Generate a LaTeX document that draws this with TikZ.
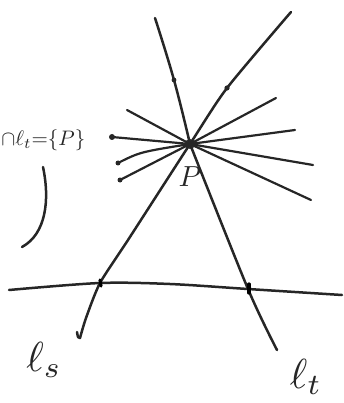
\documentclass[tikz,border=0pt]{standalone}
\usetikzlibrary{calc}
\begin{document}
\begin{tikzpicture}[x=1pt,y=-1pt,line cap=round,line join=round,
  stroke/.style={line width=2.5pt,black!85},
  thin stroke/.style={line width=2.2pt,black!85},
  lbl/.style={inner sep=0pt,text=black!85}]
\useasboundingbox (0,0) rectangle (344,403);
% point P
\node[circle,fill=black!80,inner sep=0pt,minimum size=10pt] (P) at (190,144) {};
% coordinates
\coordinate (ta) at (155,18);
\coordinate (tm) at (174,80);
\coordinate (tb) at (248,289);
\coordinate (tc) at (277,350);
\coordinate (sa) at (291,12);
\coordinate (sb) at (227,88);
\coordinate (sc) at (128,240);
\coordinate (sd) at (100,283);
\coordinate (se) at (86,318);
\coordinate (sf) at (80,338);
\coordinate (h0) at (9,290);
\coordinate (h1) at (170,284);
\coordinate (h2) at (342,295);
% line l_t
\draw[stroke] plot[smooth,tension=0.7] coordinates {(ta) (tm) (P.center)};
\draw[stroke] plot[smooth,tension=0.5] coordinates {(P.center) (tb) (tc)};
% line l_s
\draw[stroke] plot[smooth,tension=0.4] coordinates {(sa) (sb) (P.center) (sc) (sd) (se) (sf)} .. controls (78,338) .. ++(-3,-6);
% horizontal line
\draw[stroke] plot[smooth,tension=0.5] coordinates {(h0) (sd) (h1) (tb) (h2)};
% ticks
\draw[line width=3.2pt] ($(sd)+(0,-3)$) -- ($(sd)+(1,3)$);
\draw[line width=3.2pt] ($(tb)+(1,-5)$) -- ($(tb)+(1,4)$);
\fill[black!85] (tm) circle (2.4pt);
\fill[black!85] (sb) circle (2.6pt);
% short rays through P
\coordinate (r1a) at (127,110); \coordinate (r1b) at (311,200);
\coordinate (r2a) at (112,137); \coordinate (r2b) at (313,165);
\coordinate (r3a) at (118,163); \coordinate (r3b) at (295,130);
\coordinate (r4a) at (120,180); \coordinate (r4b) at (276,98);
\draw[thin stroke] (r1a) -- (P.center) -- (r1b);
\draw[thin stroke] (r2a) -- (P.center) -- (r2b);
\draw[thin stroke] (r3a) .. controls (140,152) .. (P.center) -- (r3b);
\draw[thin stroke] (r4a) -- (P.center) -- (r4b);
\fill[black!85] (r2a) circle (3pt);
\fill[black!85] (r3a) circle (2.5pt);
\fill[black!85] (r4a) circle (2.5pt);
% labels
\node[lbl,scale=2.9] (Pl) at (190,177) {$P$};
\node[lbl,scale=4.2] (ls) at (44,360) {$\ell_s$};
\node[lbl,scale=4.2] (lt) at (306,377) {$\ell_t$};
\node[lbl,anchor=west,scale=2.1] (eq) at (1,140) {$\cap\ell_t{=}\{P\}$};
% bracket curve
\coordinate (ba) at (43,167);
\coordinate (bb) at (22,247);
\draw[stroke] (ba) .. controls (50,200) and (46,234) .. (bb);
\end{tikzpicture}
\end{document}
